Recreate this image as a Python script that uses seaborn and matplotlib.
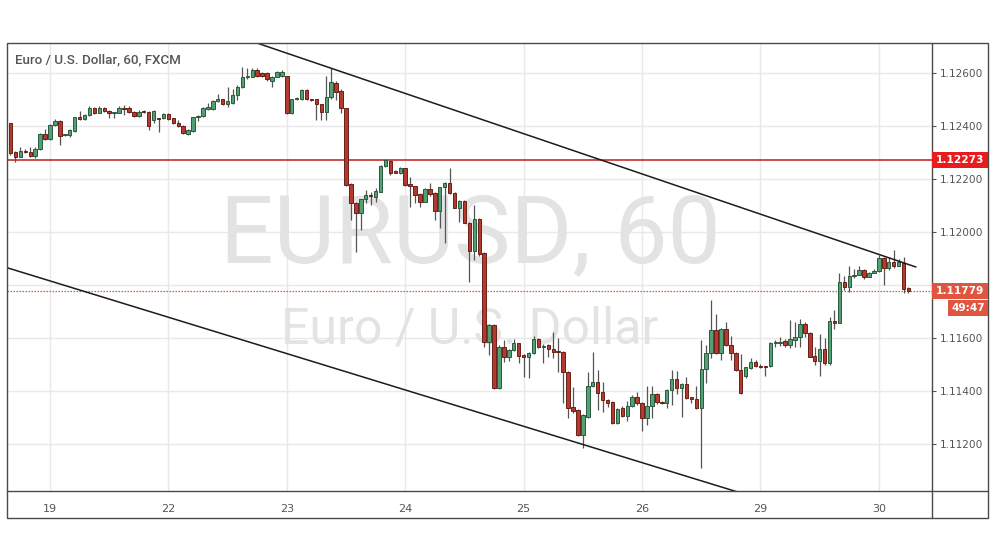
import numpy as np
import pandas as pd
import matplotlib
matplotlib.use("Agg")
import matplotlib.pyplot as plt
import matplotlib.transforms as mtransforms
from matplotlib.patches import Rectangle
from matplotlib.lines import Line2D
import seaborn as sns

# ---------------- data (EUR/USD hourly) ----------------
opens = [1.12411, 1.12304, 1.12285, 1.12306, 1.12301, 1.12289, 1.12316, 1.12370, 1.12352, 1.12405,
         1.12421, 1.12367, 1.12367, 1.12383, 1.12434, 1.12426, 1.12443, 1.12468, 1.12451, 1.12471,
         1.12459, 1.12449, 1.12451, 1.12468, 1.12468, 1.12455, 1.12439, 1.12455, 1.12455, 1.12424,
         1.12430, 1.12430, 1.12446, 1.12430, 1.12413, 1.12402, 1.12371, 1.12383, 1.12434, 1.12438,
         1.12464, 1.12464, 1.12495, 1.12502, 1.12483, 1.12489, 1.12518, 1.12550, 1.12585, 1.12587,
         1.12613, 1.12600, 1.12600, 1.12572, 1.12587, 1.12590, 1.12590, 1.12449, 1.12502, 1.12504,
         1.12537, 1.12502, 1.12502, 1.12483, 1.12455, 1.12509, 1.12565, 1.12535, 1.12468, 1.12182,
         1.12109, 1.12071, 1.12124, 1.12140, 1.12134, 1.12153, 1.12250, 1.12270, 1.12231, 1.12222,
         1.12241, 1.12182, 1.12174, 1.12144, 1.12115, 1.12163, 1.12149, 1.12081, 1.12169, 1.12184,
         1.12149, 1.12092, 1.12119, 1.12036, 1.11930, 1.12048, 1.11920, 1.11586, 1.11649, 1.11409,
         1.11567, 1.11529, 1.11554, 1.11579, 1.11535, 1.11526, 1.11544, 1.11596, 1.11567, 1.11573,
         1.11557, 1.11550, 1.11548, 1.11472, 1.11340, 1.11327, 1.11233, 1.11302, 1.11418, 1.11432,
         1.11397, 1.11365, 1.11359, 1.11280, 1.11335, 1.11306, 1.11344, 1.11375, 1.11354, 1.11297,
         1.11344, 1.11389, 1.11357, 1.11354, 1.11404, 1.11444, 1.11410, 1.11425, 1.11375, 1.11369,
         1.11335, 1.11482, 1.11543, 1.11631, 1.11543, 1.11633, 1.11574, 1.11543, 1.11480, 1.11454,
         1.11485, 1.11507, 1.11494, 1.11492, 1.11492, 1.11580, 1.11582, 1.11588, 1.11573, 1.11592,
         1.11602, 1.11653, 1.11620, 1.11532, 1.11514, 1.11558, 1.11504, 1.11665, 1.11658, 1.11813,
         1.11794, 1.11834, 1.11838, 1.11857, 1.11832, 1.11847, 1.11851, 1.11901, 1.11863, 1.11888,
         1.11873, 1.11884, 1.11788]
highs = [1.12414, 1.12306, 1.12320, 1.12316, 1.12320, 1.12323, 1.12373, 1.12388, 1.12408, 1.12428,
         1.12425, 1.12372, 1.12388, 1.12436, 1.12459, 1.12446, 1.12478, 1.12472, 1.12476, 1.12474,
         1.12462, 1.12455, 1.12476, 1.12480, 1.12476, 1.12458, 1.12460, 1.12462, 1.12459, 1.12462,
         1.12432, 1.12452, 1.12449, 1.12432, 1.12424, 1.12405, 1.12390, 1.12437, 1.12442, 1.12474,
         1.12488, 1.12500, 1.12524, 1.12505, 1.12550, 1.12540, 1.12555, 1.12625, 1.12620, 1.12620,
         1.12620, 1.12605, 1.12605, 1.12590, 1.12610, 1.12613, 1.12592, 1.12505, 1.12509, 1.12540,
         1.12540, 1.12505, 1.12505, 1.12486, 1.12590, 1.12620, 1.12570, 1.12540, 1.12470, 1.12184,
         1.12112, 1.12127, 1.12159, 1.12153, 1.12165, 1.12253, 1.12276, 1.12274, 1.12235, 1.12247,
         1.12244, 1.12210, 1.12176, 1.12146, 1.12168, 1.12184, 1.12152, 1.12172, 1.12188, 1.12241,
         1.12153, 1.12122, 1.12122, 1.12040, 1.12102, 1.12052, 1.11924, 1.11652, 1.11652, 1.11573,
         1.11592, 1.11557, 1.11595, 1.11582, 1.11538, 1.11548, 1.11607, 1.11600, 1.11575, 1.11576,
         1.11624, 1.11599, 1.11551, 1.11475, 1.11416, 1.11330, 1.11312, 1.11472, 1.11545, 1.11479,
         1.11435, 1.11368, 1.11362, 1.11335, 1.11341, 1.11360, 1.11383, 1.11394, 1.11357, 1.11417,
         1.11417, 1.11392, 1.11360, 1.11407, 1.11480, 1.11473, 1.11428, 1.11452, 1.11378, 1.11417,
         1.11593, 1.11574, 1.11744, 1.11691, 1.11636, 1.11659, 1.11606, 1.11546, 1.11540, 1.11491,
         1.11523, 1.11518, 1.11500, 1.11495, 1.11583, 1.11592, 1.11602, 1.11595, 1.11668, 1.11661,
         1.11670, 1.11661, 1.11623, 1.11567, 1.11615, 1.11599, 1.11678, 1.11706, 1.11844, 1.11834,
         1.11872, 1.11859, 1.11870, 1.11860, 1.11850, 1.11859, 1.11914, 1.11905, 1.11905, 1.11932,
         1.11897, 1.11905, 1.11794]
lows = [1.12291, 1.12266, 1.12283, 1.12300, 1.12285, 1.12279, 1.12312, 1.12348, 1.12350, 1.12400,
        1.12329, 1.12362, 1.12358, 1.12380, 1.12424, 1.12424, 1.12440, 1.12448, 1.12449, 1.12455,
        1.12430, 1.12430, 1.12449, 1.12443, 1.12452, 1.12436, 1.12436, 1.12449, 1.12386, 1.12411,
        1.12380, 1.12427, 1.12424, 1.12408, 1.12396, 1.12370, 1.12368, 1.12380, 1.12420, 1.12435,
        1.12460, 1.12460, 1.12492, 1.12480, 1.12474, 1.12485, 1.12500, 1.12545, 1.12580, 1.12585,
        1.12587, 1.12587, 1.12572, 1.12550, 1.12585, 1.12587, 1.12446, 1.12446, 1.12499, 1.12500,
        1.12499, 1.12495, 1.12424, 1.12424, 1.12424, 1.12505, 1.12500, 1.12449, 1.12175, 1.12046,
        1.11926, 1.12008, 1.12109, 1.12102, 1.12115, 1.12150, 1.12245, 1.12216, 1.12222, 1.12219,
        1.12175, 1.12096, 1.12109, 1.12096, 1.12112, 1.12136, 1.12046, 1.12014, 1.11957, 1.12143,
        1.12090, 1.12039, 1.12033, 1.11813, 1.11895, 1.11910, 1.11567, 1.11535, 1.11405, 1.11405,
        1.11510, 1.11513, 1.11550, 1.11504, 1.11453, 1.11450, 1.11540, 1.11562, 1.11506, 1.11529,
        1.11523, 1.11472, 1.11353, 1.11296, 1.11315, 1.11228, 1.11183, 1.11298, 1.11415, 1.11327,
        1.11321, 1.11340, 1.11275, 1.11275, 1.11300, 1.11284, 1.11340, 1.11347, 1.11247, 1.11272,
        1.11297, 1.11350, 1.11350, 1.11335, 1.11347, 1.11389, 1.11301, 1.11370, 1.11354, 1.11330,
        1.11108, 1.11429, 1.11524, 1.11540, 1.11517, 1.11570, 1.11517, 1.11474, 1.11388, 1.11450,
        1.11482, 1.11488, 1.11485, 1.11454, 1.11489, 1.11567, 1.11570, 1.11567, 1.11561, 1.11565,
        1.11567, 1.11605, 1.11526, 1.11498, 1.11457, 1.11498, 1.11498, 1.11633, 1.11655, 1.11781,
        1.11775, 1.11828, 1.11836, 1.11822, 1.11829, 1.11844, 1.11848, 1.11800, 1.11857, 1.11863,
        1.11870, 1.11769, 1.11769]
closes = [1.12300, 1.12285, 1.12308, 1.12302, 1.12289, 1.12316, 1.12370, 1.12352, 1.12405, 1.12421,
          1.12364, 1.12370, 1.12386, 1.12434, 1.12426, 1.12443, 1.12468, 1.12451, 1.12471, 1.12459,
          1.12449, 1.12451, 1.12468, 1.12466, 1.12455, 1.12439, 1.12455, 1.12453, 1.12401, 1.12459,
          1.12427, 1.12446, 1.12427, 1.12411, 1.12402, 1.12373, 1.12386, 1.12434, 1.12438, 1.12471,
          1.12474, 1.12495, 1.12502, 1.12483, 1.12495, 1.12518, 1.12550, 1.12585, 1.12587, 1.12613,
          1.12590, 1.12590, 1.12577, 1.12587, 1.12605, 1.12605, 1.12449, 1.12502, 1.12504, 1.12537,
          1.12502, 1.12499, 1.12483, 1.12455, 1.12509, 1.12569, 1.12531, 1.12468, 1.12178, 1.12109,
          1.12071, 1.12124, 1.12140, 1.12136, 1.12155, 1.12250, 1.12272, 1.12225, 1.12225, 1.12241,
          1.12178, 1.12174, 1.12140, 1.12115, 1.12163, 1.12144, 1.12081, 1.12169, 1.12184, 1.12146,
          1.12092, 1.12119, 1.12036, 1.11930, 1.12048, 1.11916, 1.11586, 1.11649, 1.11409, 1.11567,
          1.11529, 1.11554, 1.11579, 1.11533, 1.11526, 1.11544, 1.11596, 1.11567, 1.11570, 1.11557,
          1.11548, 1.11546, 1.11472, 1.11334, 1.11325, 1.11233, 1.11309, 1.11418, 1.11432, 1.11393,
          1.11365, 1.11355, 1.11280, 1.11330, 1.11306, 1.11344, 1.11375, 1.11354, 1.11297, 1.11344,
          1.11389, 1.11356, 1.11354, 1.11404, 1.11444, 1.11410, 1.11425, 1.11373, 1.11369, 1.11335,
          1.11482, 1.11543, 1.11631, 1.11543, 1.11633, 1.11574, 1.11543, 1.11477, 1.11391, 1.11488,
          1.11507, 1.11492, 1.11489, 1.11489, 1.11580, 1.11582, 1.11586, 1.11573, 1.11596, 1.11602,
          1.11653, 1.11620, 1.11529, 1.11514, 1.11558, 1.11504, 1.11665, 1.11658, 1.11813, 1.11794,
          1.11834, 1.11838, 1.11857, 1.11832, 1.11847, 1.11850, 1.11901, 1.11863, 1.11888, 1.11873,
          1.11888, 1.11784, 1.11779]

day_tick_index = [8, 32, 56, 80, 104, 128, 152, 176]
day_tick_labels = ["19", "22", "23", "24", "25", "26", "29", "30"]
price_ticks = [1.11200, 1.11400, 1.11600, 1.11800, 1.12000, 1.12200, 1.12400, 1.12600]
# the 1.11800 scale label sits under the last-price tag in the reference
price_tick_labels = ["1.11200", "1.11400", "1.11600", "", "1.12000", "1.12200", "1.12400", "1.12600"]

resistance_level = 1.12273
last_price = 1.11779
countdown = "49:47"
# channel lines (bar index, price)
upper_line_x = [40.0, 183.5]
upper_line_y = [1.12778, 1.11868]
lower_line_x = [-1.0, 160.0]
lower_line_y = [1.11867, 1.10945]

title_text = "Euro / U.S. Dollar, 60, FXCM"
watermark_big = "EURUSD, 60"
watermark_small = "Euro / U.S. Dollar"

# ---------------- styling ----------------
sns.set_theme(style="white")
plt.rcParams["font.family"] = ["DejaVu Sans"]

W, H = 995, 556
fig = plt.figure(figsize=(W / 100, H / 100), dpi=100, facecolor="white")

def fx(px):
    return px / W

def fy(py):
    return 1 - py / H

L_, R_, T_, B_ = 7, 932, 43, 491
ax = fig.add_axes([fx(L_), fy(B_), fx(R_) - fx(L_), fy(T_) - fy(B_)])
ax.set_facecolor("white")

df = pd.DataFrame({"open": opens, "high": highs, "low": lows, "close": closes})
df["idx"] = np.arange(len(df))
df["up"] = df["close"] >= df["open"]

px_per_bar = 4.934
x0_px = 10.5
xmin = (L_ - x0_px) / px_per_bar
xmax = (R_ - x0_px) / px_per_bar
YMIN, YMAX = 1.11021, 1.12715

# grid
grid_c = "#e9e9e9"
for p in price_ticks:
    ax.axhline(p, color=grid_c, lw=1.0, zorder=0)
for d in day_tick_index:
    ax.axvline(d, color=grid_c, lw=1.0, zorder=0)

# watermark
wm_c = "#e3e3e3"
ax.text(0.5005, 0.511, watermark_big, transform=ax.transAxes, ha="center", va="baseline",
        fontsize=68, color=wm_c, family="Roboto", zorder=0.5)
ax.text(0.5005, 0.330, watermark_small, transform=ax.transAxes, ha="center", va="baseline",
        fontsize=36, color=wm_c, family="Roboto", zorder=0.5)

# horizontal levels
ax.axhline(resistance_level, color="#c01c1c", lw=1.1, zorder=2)
ax.axhline(last_price, color="#c0603e", lw=0.9, ls=(0, (1.2, 1.2)), zorder=2)

# candles
up_face, up_edge = "#52a074", "#2a5a3e"
dn_face, dn_edge = "#b23a2f", "#6a1f18"
wick_c = "#555555"
ax.vlines(df["idx"], df["low"], df["high"], color=wick_c, lw=0.9, zorder=3)
body_bottom = np.minimum(df["open"], df["close"])
body_h = np.maximum(np.abs(df["close"] - df["open"]), 0.00004)
faces = np.where(df["up"], up_face, dn_face)
edges = np.where(df["up"], up_edge, dn_edge)
ax.bar(df["idx"], body_h, bottom=body_bottom, width=0.7, color=faces,
       edgecolor=edges, linewidth=0.7, zorder=4)

# channel lines
lines_df = pd.DataFrame({"x": upper_line_x + lower_line_x,
                         "y": upper_line_y + lower_line_y,
                         "line": ["upper", "upper", "lower", "lower"]})
sns.lineplot(data=lines_df, x="x", y="y", units="line", estimator=None,
             color="#1c1c1c", lw=1.1, ax=ax, zorder=5, legend=False)
ax.set_xlim(xmin, xmax)
ax.set_ylim(YMIN, YMAX)

# axes ticks
for s in ax.spines.values():
    s.set_visible(False)
ax.set_xlabel("")
ax.set_ylabel("")
ax.set_xticks(day_tick_index)
ax.set_xticklabels(day_tick_labels)
ax.tick_params(axis="x", length=0, pad=9, labelsize=8, labelcolor="#555555")
ax.yaxis.tick_right()
ax.set_yticks(price_ticks)
ax.set_yticklabels(price_tick_labels)
ax.tick_params(axis="y", length=3, width=0.8, color="#555555", pad=3,
               labelsize=7.6, labelcolor="#555555", right=True, left=False)

# title
fig.text(fx(15), fy(60), title_text, ha="left", va="center", fontsize=9.6,
         color="#555555", family="Roboto", fontweight="medium")

# frame lines
frame_c = "#4a4a4a"
fig.add_artist(Rectangle((fx(7), fy(518)), fx(988) - fx(7), fy(43) - fy(518),
                         transform=fig.transFigure, fill=False, ec=frame_c, lw=1.0))
fig.add_artist(Line2D([fx(932), fx(932)], [fy(43), fy(518)], transform=fig.transFigure,
                      color=frame_c, lw=1.0))
fig.add_artist(Line2D([fx(7), fx(988)], [fy(491), fy(491)], transform=fig.transFigure,
                      color=frame_c, lw=1.0))

# price label boxes on the scale
trans = mtransforms.blended_transform_factory(fig.transFigure, ax.transData)
unit = (YMAX - YMIN) / (B_ - T_)
pad_h = 8 * unit

def price_box(y, text, color, x_left_px, dy_px=0):
    yc = y - dy_px * unit
    rect = Rectangle((fx(x_left_px), yc - pad_h), fx(988) - fx(x_left_px), 2 * pad_h,
                     transform=trans, fc=color, ec="none", clip_on=False, zorder=10)
    fig.add_artist(rect)
    t = fig.text((fx(x_left_px) + fx(988)) / 2, 0, text, transform=trans, ha="center",
                 va="center", fontsize=7.6, color="white", fontweight="bold", zorder=11)
    t.set_y(yc)

price_box(resistance_level, f"{resistance_level:.5f}", "#e81c1c", 932)
price_box(last_price, f"{last_price:.5f}", "#e0553f", 932)
price_box(last_price, countdown, "#e0553f", 948, dy_px=17)

fig.savefig("out.png", dpi=100, facecolor="white")
